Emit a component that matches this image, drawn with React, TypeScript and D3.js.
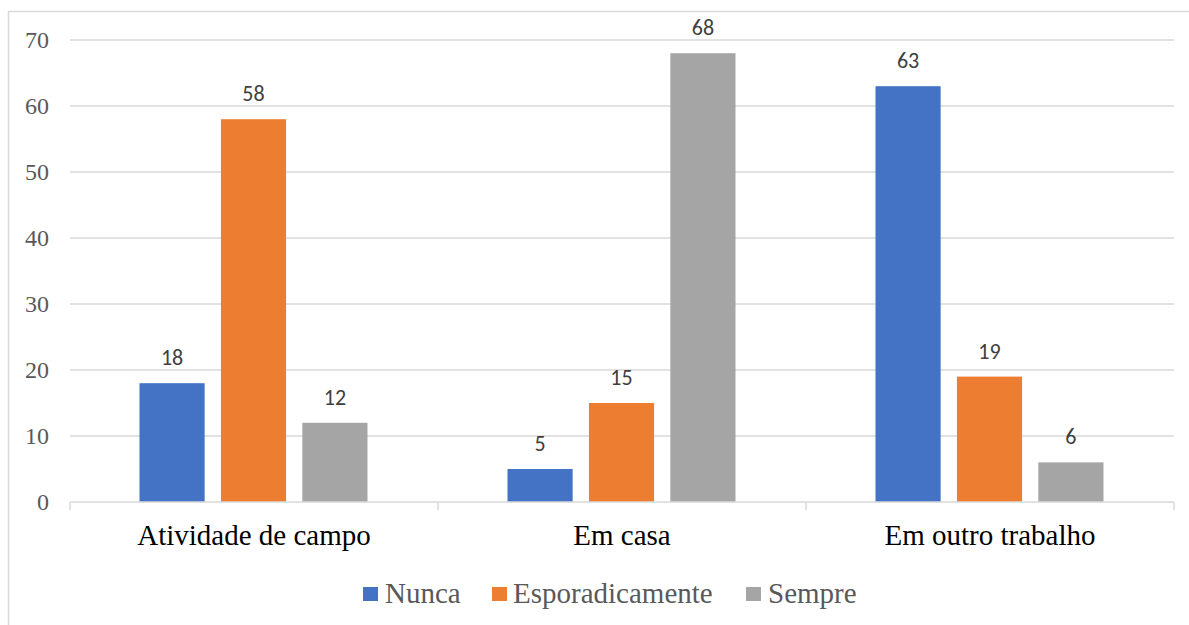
import React from "react";
import * as d3 from "d3";

const categories = ["Atividade de campo", "Em casa", "Em outro trabalho"];
const seriesNames = ["Nunca", "Esporadicamente", "Sempre"];
const nunca = [18, 5, 63];
const esporadicamente = [58, 15, 19];
const sempre = [12, 68, 6];
const yTicks = [0, 10, 20, 30, 40, 50, 60, 70];
const colors = ["#4472C4", "#ED7D31", "#A5A5A5"];

const SERIF = `"Liberation Serif"`;
const SANS = `"Carlito"`;

export default function App() {
  const W = 1189, H = 625;
  const left = 70, right = 1174, top = 40, bottom = 502;
  const series = [nunca, esporadicamente, sempre];
  const x0 = d3.scaleBand().domain(categories).range([left, right]).paddingInner(0).paddingOuter(0);
  const x1 = d3.scaleBand().domain(seriesNames).range([69.5, 297.5]).paddingInner(0.2).paddingOuter(0);
  const y = d3.scaleLinear().domain([0, 70]).range([bottom, top]);
  const boundaries = [left, ...categories.map((c) => (x0(c) as number) + x0.bandwidth())];

  const legendItems = [
    { name: seriesNames[0], sx: 363, tx: 385 },
    { name: seriesNames[1], sx: 492, tx: 513 },
    { name: seriesNames[2], sx: 746, tx: 768 },
  ];

  return (
    <svg width={W} height={H} style={{ position: "absolute", left: 0, top: 0, display: "block" }}>
      <rect x={0} y={0} width={W} height={H} fill="#fff" />
      <rect x={8.5} y={11.5} width={1300} height={700} fill="none" stroke="#d9d9d9" strokeWidth={1.5} />
      {yTicks.map((t) => (
        <g key={t}>
          {t > 0 && (
            <line x1={left} x2={right} y1={y(t)} y2={y(t)} stroke="#d9d9d9" strokeWidth={1.5} />
          )}
          <text x={49} y={y(t) + 8} textAnchor="end" style={{ fontFamily: SERIF }} fontSize={24} fill="#595959">
            {t}
          </text>
        </g>
      ))}
      {categories.map((c, i) => (
        <g key={c}>
          {series.map((s, j) => {
            const bx = (x0(c) as number) + (x1(seriesNames[j]) as number);
            const bw = x1.bandwidth();
            return (
              <g key={j}>
                <rect x={bx} y={y(s[i])} width={bw} height={bottom - y(s[i])} fill={colors[j]} />
                <text x={bx + bw / 2} y={y(s[i]) - 18} textAnchor="middle" style={{ fontFamily: SANS }} fontSize={22} fill="#404040">
                  {s[i]}
                </text>
              </g>
            );
          })}
          <text x={(x0(c) as number) + x0.bandwidth() / 2} y={545} textAnchor="middle" style={{ fontFamily: SERIF }} fontSize={29} fill="#000">
            {c}
          </text>
        </g>
      ))}
      <line x1={left} x2={right} y1={bottom} y2={bottom} stroke="#d9d9d9" strokeWidth={1.5} />
      {boundaries.map((b, i) => (
        <line key={i} x1={b} x2={b} y1={bottom} y2={bottom + 8} stroke="#d9d9d9" strokeWidth={1.5} />
      ))}
      {legendItems.map((it, i) => (
        <g key={it.name}>
          <rect x={it.sx} y={587} width={15} height={14} fill={colors[i]} />
          <text x={it.tx} y={603} style={{ fontFamily: SERIF }} fontSize={29} fill="#595959">
            {it.name}
          </text>
        </g>
      ))}
    </svg>
  );
}
